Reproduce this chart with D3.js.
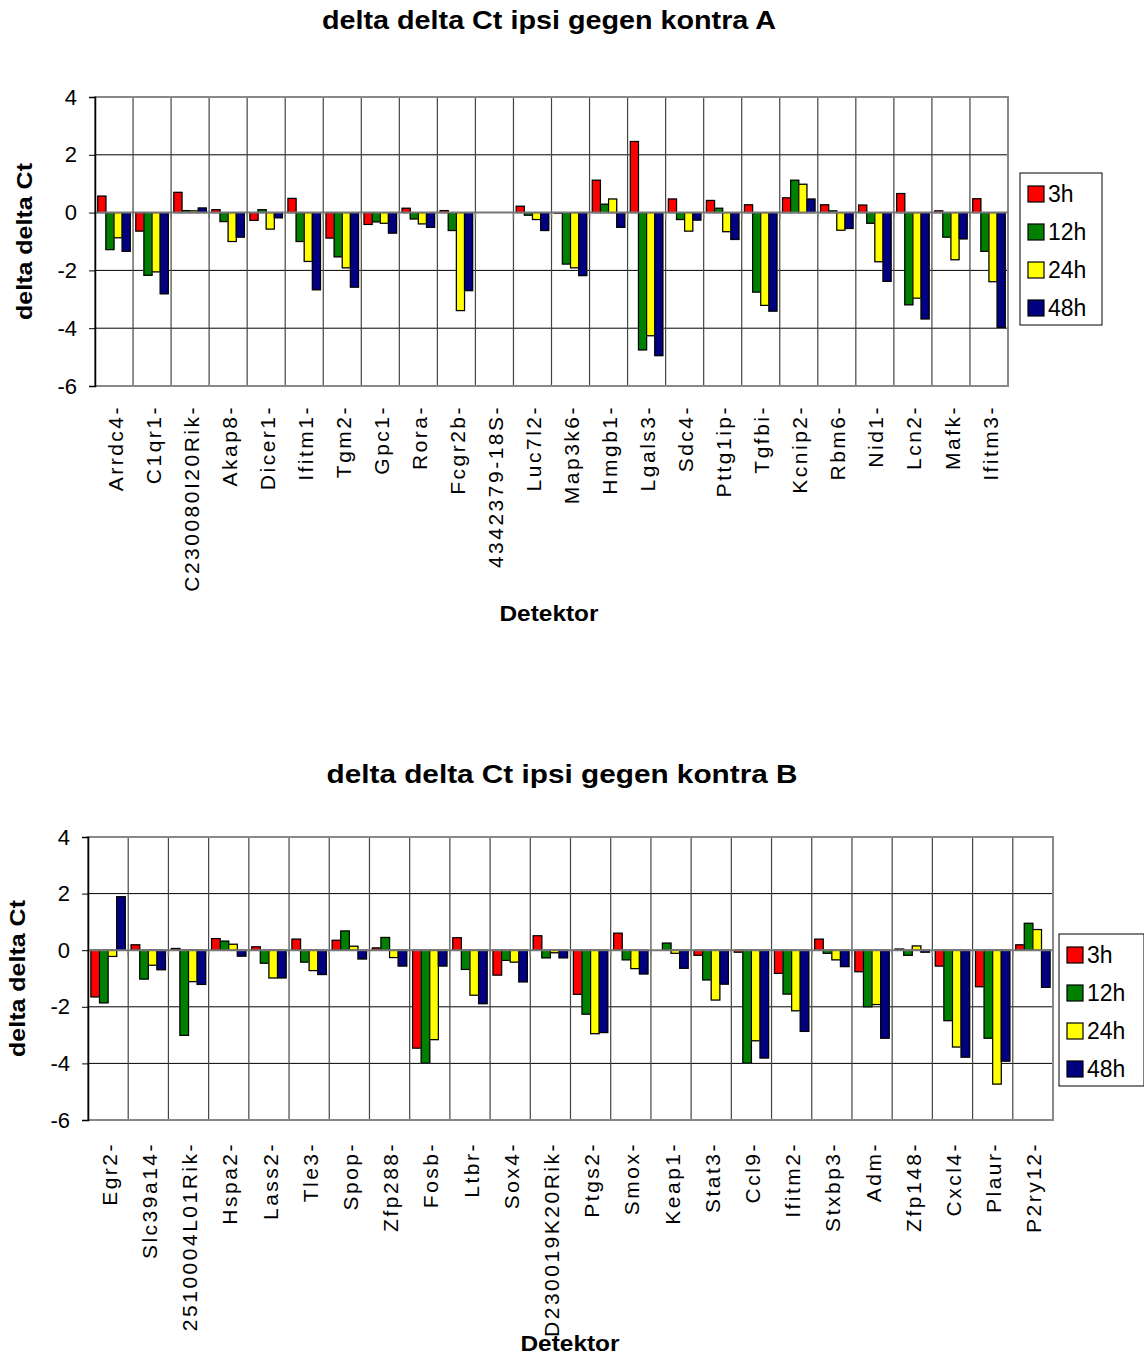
<!DOCTYPE html>
<html>
<head>
<meta charset="utf-8">
<script src="https://cdn.jsdelivr.net/npm/d3@7"></script>
<style>
  body { margin: 0; background: #fff; }
  text { font-family: "Liberation Sans", Arial, sans-serif; }
</style>
</head>
<body>
<div id="chart"></div>
<script>
const seriesNames = ['3h', '12h', '24h', '48h'];
const seriesColors = ['#ff0000', '#008000', '#ffff00', '#000080'];
const yTicks = [-6, -4, -2, 0, 2, 4];

const detektorA = ['Arrdc4', 'C1qr1', 'C230080I20Rik', 'Akap8', 'Dicer1', 'Ifitm1', 'Tgm2', 'Gpc1',
    'Rora', 'Fcgr2b', '4342379-18S', 'Luc7l2', 'Map3k6', 'Hmgb1', 'Lgals3', 'Sdc4', 'Pttg1ip',
    'Tgfbi', 'Kcnip2', 'Rbm6', 'Nid1', 'Lcn2', 'Mafk', 'Ifitm3'];
const a3h  = [0.57, -0.64, 0.70, 0.10, -0.27, 0.49, -0.88, -0.41, 0.15, 0.07, 0, 0.22, -0.02, 1.12, 2.46, 0.47, 0.42, 0.27, 0.51, 0.27, 0.26, 0.66, 0.06, 0.48];
const a12h = [-1.28, -2.17, 0.07, -0.31, 0.10, -1.00, -1.53, -0.32, -0.22, -0.62, 0, -0.09, -1.78, 0.29, -4.75, -0.24, 0.15, -2.75, 1.12, 0.06, -0.37, -3.19, -0.85, -1.34];
const a24h = [-0.87, -2.05, 0.06, -1.00, -0.57, -1.69, -1.91, -0.37, -0.39, -3.39, 0, -0.24, -1.91, 0.47, -4.26, -0.64, -0.66, -3.21, 0.98, -0.61, -1.70, -2.96, -1.63, -2.39];
const a48h = [-1.34, -2.81, 0.16, -0.85, -0.18, -2.67, -2.58, -0.71, -0.51, -2.70, 0, -0.62, -2.18, -0.51, -4.95, -0.26, -0.93, -3.41, 0.47, -0.55, -2.38, -3.68, -0.91, -3.97];

const detektorB = ['Egr2', 'Slc39a14', '2510004L01Rik', 'Hspa2', 'Lass2', 'Tle3', 'Spop', 'Zfp288',
    'Fosb', 'Ltbr', 'Sox4', 'D230019K20Rik', 'Ptgs2', 'Smox', 'Keap1', 'Stat3', 'Ccl9', 'Ifitm2',
    'Stxbp3', 'Adm', 'Zfp148', 'Cxcl4', 'Plaur', 'P2ry12'];
const b3h  = [-1.65, 0.19, 0.06, 0.41, 0.12, 0.39, 0.35, 0.08, -3.46, 0.44, -0.88, 0.51, -1.56, 0.60, 0, -0.18, -0.07, -0.82, 0.39, -0.76, 0.04, -0.56, -1.29, 0.19];
const b12h = [-1.86, -1.02, -3.01, 0.32, -0.46, -0.42, 0.68, 0.45, -3.99, -0.68, -0.36, -0.27, -2.26, -0.34, 0.25, -1.05, -3.99, -1.55, -0.11, -2.00, -0.18, -2.49, -3.11, 0.95];
const b24h = [-0.22, -0.53, -1.11, 0.21, -0.98, -0.72, 0.14, -0.26, -3.16, -1.59, -0.42, -0.09, -2.95, -0.65, -0.11, -1.76, -3.20, -2.14, -0.34, -1.92, 0.15, -3.42, -4.73, 0.73];
const b48h = [1.89, -0.69, -1.21, -0.21, -0.98, -0.86, -0.31, -0.56, -0.56, -1.89, -1.12, -0.27, -2.91, -0.84, -0.64, -1.20, -3.81, -2.87, -0.58, -3.11, -0.07, -3.78, -3.92, -1.31];

const svg = d3.select('#chart').append('svg')
    .attr('width', 1144)
    .attr('height', 1357);

function drawChart(opt) {
    const rows = opt.names.map((n, i) => ({ name: n, values: opt.series.map(s => s[i]) }));

    const x0 = d3.scaleBand().domain(opt.names).range([opt.left, opt.right]);
    const x1 = d3.scaleBand().domain(seriesNames).range([0, x0.bandwidth()]).paddingOuter(0.34);
    const y = d3.scaleLinear().domain([-6, 4]).range([opt.bottom, opt.top]);

    const g = svg.append('g');

    // title
    g.append('text')
        .attr('x', opt.titleX).attr('y', opt.titleY)
        .attr('text-anchor', 'middle')
        .attr('textLength', opt.titleW).attr('lengthAdjust', 'spacingAndGlyphs')
        .style('font-size', '25px').style('font-weight', 'bold')
        .text(opt.title);

    // horizontal grid
    g.selectAll('.hgrid')
        .data(yTicks.filter(t => t !== 0 && t !== 4 && t !== -6))
        .enter().append('line')
        .attr('x1', opt.left).attr('x2', opt.right)
        .attr('y1', d => y(d)).attr('y2', d => y(d))
        .attr('stroke', '#000').attr('stroke-width', 1);

    // vertical category lines
    g.selectAll('.vgrid')
        .data(opt.names.slice(1))
        .enter().append('line')
        .attr('x1', d => x0(d)).attr('x2', d => x0(d))
        .attr('y1', opt.top).attr('y2', opt.bottom)
        .attr('stroke', '#444').attr('stroke-width', 1.2);

    // plot border
    g.append('rect')
        .attr('x', opt.left).attr('y', opt.top)
        .attr('width', opt.right - opt.left).attr('height', opt.bottom - opt.top)
        .attr('fill', 'none').attr('stroke', '#888').attr('stroke-width', 2);

    // bars
    const cat = g.selectAll('.cat')
        .data(rows)
        .enter().append('g')
        .attr('transform', d => `translate(${x0(d.name)},0)`);

    cat.selectAll('rect')
        .data(d => d.values.map((v, i) => ({ key: seriesNames[i], color: seriesColors[i], value: v })).filter(b => b.value !== 0))
        .enter().append('rect')
        .attr('x', d => x1(d.key))
        .attr('width', x1.bandwidth())
        .attr('y', d => y(Math.max(0, d.value)))
        .attr('height', d => Math.abs(y(d.value) - y(0)))
        .attr('fill', d => d.color)
        .attr('stroke', '#000').attr('stroke-width', 1.2)
        .style('filter', 'drop-shadow(0.6px 0.6px 0.6px #999)');

    // zero line (x axis) with ticks below
    g.append('line')
        .attr('x1', opt.left).attr('x2', opt.right)
        .attr('y1', y(0)).attr('y2', y(0))
        .attr('stroke', '#777').attr('stroke-width', 2);
    g.selectAll('.xtick')
        .data(opt.names.slice(1))
        .enter().append('line')
        .attr('x1', d => x0(d)).attr('x2', d => x0(d))
        .attr('y1', y(0)).attr('y2', y(0) + 6)
        .attr('stroke', '#777').attr('stroke-width', 1.5);

    // y axis
    const yAxis = g.append('g')
        .attr('transform', `translate(${opt.left},0)`)
        .call(d3.axisLeft(y).tickValues(yTicks).tickSize(6).tickPadding(12).tickFormat(d => String(d)));
    yAxis.select('.domain').attr('stroke', '#000').attr('stroke-width', 1.5);
    yAxis.selectAll('.tick line').attr('stroke', '#000');
    yAxis.selectAll('text').style('font-size', '22px').style('font-family', '"Liberation Sans", Arial, sans-serif');

    g.append('text')
        .attr('transform', `translate(${opt.yLabelX},${(opt.top + opt.bottom) / 2}) rotate(-90)`)
        .attr('text-anchor', 'middle')
        .attr('textLength', 157).attr('lengthAdjust', 'spacingAndGlyphs')
        .style('font-size', '22px').style('font-weight', 'bold')
        .text('delta delta Ct');

    // category labels
    g.selectAll('.xlabel')
        .data(opt.names)
        .enter().append('text')
        .attr('transform', d => `translate(${x0(d) + x0.bandwidth() / 2 + 1},${opt.bottom + opt.labelGap}) rotate(-90)`)
        .attr('text-anchor', 'end')
        .attr('dy', '0.36em')
        .style('font-size', '21px')
        .style('letter-spacing', '2.5px')
        .text(d => d + '-');

    g.append('text')
        .attr('x', opt.xLabelX).attr('y', opt.xLabelY)
        .attr('text-anchor', 'middle')
        .attr('textLength', 99).attr('lengthAdjust', 'spacingAndGlyphs')
        .style('font-size', '22px').style('font-weight', 'bold')
        .text('Detektor');

    // legend
    const lg = g.append('g').attr('transform', `translate(${opt.legendX},${opt.legendY})`);
    lg.append('rect')
        .attr('width', opt.legendW).attr('height', 152)
        .attr('fill', '#fff').attr('stroke', '#000').attr('stroke-width', 1);
    const item = lg.selectAll('.item')
        .data(seriesNames)
        .enter().append('g')
        .attr('transform', (d, i) => `translate(8,${21 + i * 38})`);
    item.append('rect')
        .attr('x', 0).attr('y', -8)
        .attr('width', 16).attr('height', 16)
        .attr('fill', (d, i) => seriesColors[i])
        .attr('stroke', '#000').attr('stroke-width', 1.2);
    item.append('text')
        .attr('x', 20).attr('y', 8)
        .style('font-size', '23px')
        .text(d => d);
}

drawChart({
    title: 'delta delta Ct ipsi gegen kontra A',
    titleX: 549, titleY: 29, titleW: 454,
    names: detektorA,
    series: [a3h, a12h, a24h, a48h],
    left: 95, right: 1008, top: 97, bottom: 386,
    yLabelX: 32,
    labelGap: 19,
    xLabelX: 549, xLabelY: 621,
    legendX: 1020, legendY: 173, legendW: 82
});

drawChart({
    title: 'delta delta Ct ipsi gegen kontra B',
    titleX: 562, titleY: 783, titleW: 471,
    names: detektorB,
    series: [b3h, b12h, b24h, b48h],
    left: 88, right: 1053, top: 837, bottom: 1120,
    yLabelX: 25,
    labelGap: 22,
    xLabelX: 570, xLabelY: 1351,
    legendX: 1059, legendY: 934, legendW: 85
});
</script>
</body>
</html>
